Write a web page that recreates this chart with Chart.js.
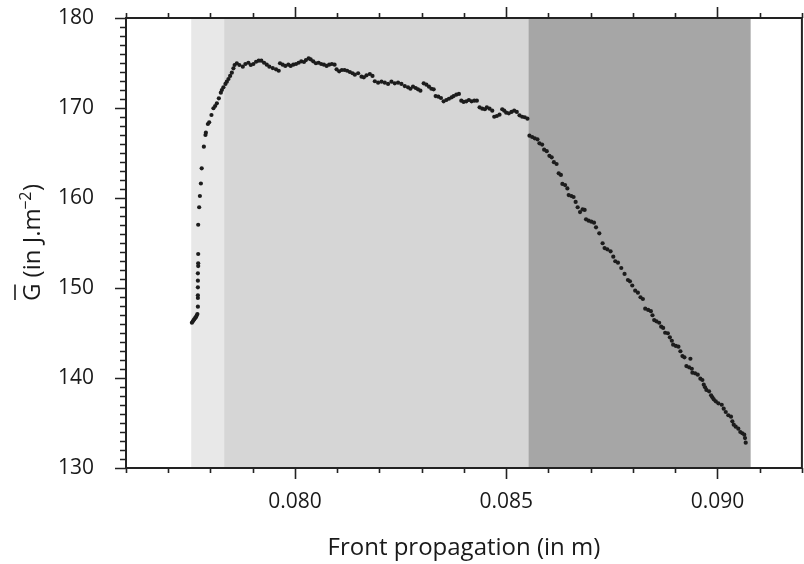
<!DOCTYPE html>
<html><head><meta charset="utf-8">
<script src="https://cdn.jsdelivr.net/npm/chart.js@4"></script>
<style>html,body{margin:0;padding:0;background:#fff;}canvas{display:block;}</style>
</head><body>
<canvas id="c" width="804" height="564"></canvas>
<script>
// Front propagation (m)
const frontPropagation = [
0.077560,0.077579,0.077598,0.077614,0.077638,0.077657,0.077673,0.077690,
0.077702,0.077702,0.077702,0.077702,0.077702,0.077702,0.077709,0.077709,0.077709,0.077709,
0.077732,0.077749,0.077773,0.077792,0.077843,0.077881,0.077891,0.077938,0.077969,0.078023,0.078070,0.078110,0.078151,0.078198,0.078245,0.078269,0.078306,0.078354,0.078387,0.078425,0.078465,0.078505,0.078543,
0.078571,0.078623,0.078684,0.078765,0.078826,0.078897,0.078954,0.079015,0.079079,0.079143,0.079204,0.079268,0.079332,0.079393,0.079473,0.079551,0.079615,0.079646,0.079709,0.079771,0.079842,0.079898,0.079960,0.080024,0.080087,0.080149,0.080213,0.080260,0.080324,0.080371,0.080432,0.080496,0.080560,0.080621,0.080685,0.080749,0.080810,0.080874,0.080938,0.080985,0.081046,0.081110,0.081174,0.081235,0.081299,0.081363,0.081417,0.081495,0.081575,0.081630,0.081694,0.081772,0.081835,0.081890,0.081968,
0.082048,0.082126,0.082204,0.082284,0.082362,0.082440,0.082520,0.082598,0.082676,0.082733,0.082794,0.082858,0.082912,0.082969,0.083047,0.083111,0.083172,0.083229,0.083283,0.083330,0.083394,0.083456,0.083519,0.083583,0.083645,0.083708,0.083756,0.083819,0.083881,0.083937,0.083992,0.084056,0.084117,0.084181,0.084245,0.084306,0.084370,0.084433,0.084495,0.084542,0.084606,0.084670,0.084717,0.084778,0.084842,0.084906,0.084953,0.085000,0.085062,0.085126,0.085189,0.085251,0.085315,0.085378,0.085440,0.085503,
0.085551,0.085615,0.085676,0.085740,0.085787,0.085851,0.085898,0.085960,0.086023,0.086077,0.086129,0.086193,0.086243,0.086295,0.086330,0.086394,0.086448,0.086479,0.086543,0.086595,0.086644,0.086692,0.086748,0.086810,0.086857,0.086890,0.086951,0.087015,0.087079,0.087126,0.087204,0.087282,0.087329,0.087393,0.087471,0.087535,0.087582,0.087646,0.087724,0.087802,0.087882,0.087929,0.087984,0.088054,0.088118,0.088180,0.088236,0.088291,0.088361,0.088425,0.088463,0.088503,0.088558,0.088621,0.088669,0.088716,0.088763,0.088827,0.088874,0.088921,0.088952,0.089016,0.089077,0.089124,0.089172,0.089219,0.089266,0.089330,0.089361,0.089394,0.089408,0.089472,0.089535,0.089597,0.089644,0.089677,0.089708,0.089739,0.089802,0.089850,0.089881,0.089913,0.089961,0.090022,0.090102,0.090149,0.090197,0.090258,0.090322,0.090353,0.090386,0.090433,0.090495,0.090542,0.090589,0.090636,0.090653,0.090670
];
// Mean energy release rate G (J.m-2)
const gValues = [
146.14,146.28,146.41,146.52,146.67,146.78,146.94,147.11,
147.92,148.89,149.19,150.08,150.81,151.63,152.44,152.74,153.78,157.03,
158.97,160.22,161.61,163.30,165.70,167.00,167.26,168.22,168.41,169.22,169.97,170.22,170.52,171.08,171.70,172.00,172.30,172.67,172.92,173.22,173.56,173.92,174.41,
174.78,174.97,174.78,174.59,174.89,175.03,174.78,174.89,175.14,175.26,175.26,175.03,174.81,174.59,174.44,174.30,174.14,174.97,174.81,174.67,174.81,174.67,174.81,174.89,175.03,175.19,175.11,175.33,175.52,175.41,175.19,174.97,175.03,174.89,174.81,174.67,174.81,174.89,174.81,174.30,174.08,174.22,174.22,174.14,174.00,173.86,173.70,173.86,173.48,173.41,173.63,173.78,173.56,172.97,172.81,
172.92,172.81,172.67,172.92,172.74,172.81,172.67,172.44,172.30,172.14,172.37,172.22,172.08,171.92,172.74,172.59,172.37,172.14,172.08,171.33,171.26,171.11,170.74,170.89,171.03,171.19,171.33,171.48,171.56,170.81,170.67,170.74,170.89,170.74,170.81,170.81,170.08,169.92,169.86,170.08,169.92,169.70,169.03,169.11,169.26,169.86,169.70,169.48,169.41,169.56,169.70,169.56,169.19,169.03,168.97,168.81,
166.92,166.78,166.63,166.52,166.08,165.94,165.37,165.20,164.69,164.52,163.98,163.78,162.74,162.56,161.56,161.44,161.06,160.33,160.22,160.11,159.56,158.97,158.44,158.74,158.67,157.63,157.48,157.37,157.26,156.74,156.08,154.97,154.44,154.30,154.08,153.48,152.97,152.81,152.22,151.56,150.89,150.74,150.28,149.70,149.48,148.97,148.78,147.70,147.56,147.42,146.97,146.44,146.30,146.14,145.70,145.56,145.03,144.97,144.52,144.14,143.70,143.56,143.48,142.97,142.44,142.30,141.33,141.19,142.14,141.03,140.59,140.52,140.37,139.92,139.78,139.26,138.97,138.67,138.52,138.08,137.86,137.63,137.41,137.19,137.03,136.59,136.22,135.86,135.70,135.19,134.81,134.59,134.37,134.00,133.86,133.70,133.33,132.81
];
// shaded phases (x range, m)
const regionStarts = [0.077544, 0.078323, 0.085527];
const regionEnds   = [0.078323, 0.085527, 0.090787];

const xMin = 0.076, xMax = 0.092;
const yMin = 130, yMax = 180;
const xTickValues = [0.080, 0.085, 0.090];
const xTickLabels = ['0.080', '0.085', '0.090'];
const yTickValues = [130, 140, 150, 160, 170, 180];
const yTickLabels = ['130', '140', '150', '160', '170', '180'];
const xTitle = 'Front propagation (in m)';
const yTitleMain = 'G', yTitleRest = ' (in J.m', yTitleSup = '\u22122', yTitleEnd = ')';

const FONT = '"Open Sans", "DejaVu Sans", sans-serif';
const INK = '#1a1a1a';
const regionColors = ['#e8e8e8', '#d6d6d6', '#a6a6a6'];

const shadePlugin = {
  id: 'shade',
  beforeDatasetsDraw(chart) {
    const {ctx, chartArea: a, scales: {x}} = chart;
    ctx.save();
    regionStarts.forEach((s, i) => {
      const p0 = x.getPixelForValue(s), p1 = x.getPixelForValue(regionEnds[i]);
      ctx.fillStyle = regionColors[i];
      ctx.fillRect(p0, a.top, p1 - p0, a.bottom - a.top);
    });
    ctx.restore();
  }
};

const framePlugin = {
  id: 'frame',
  afterDatasetsDraw(chart) {
    const {ctx, chartArea: a, scales: {x, y}} = chart;
    ctx.save();
    ctx.strokeStyle = '#222';
    ctx.lineWidth = 1.6;
    ctx.beginPath();
    for (let i = Math.round(xMin * 1000); i <= Math.round(xMax * 1000); i++) {
      const p = Math.round(x.getPixelForValue(i / 1000)) + 0.5;
      const len = (i % 5 === 0) ? 11 : 5;
      ctx.moveTo(p, a.bottom); ctx.lineTo(p, a.bottom + len);
      ctx.moveTo(p, a.top); ctx.lineTo(p, a.top - len);
    }
    for (let v = yMin; v <= yMax; v++) {
      const p = Math.round(y.getPixelForValue(v)) + 0.5;
      const len = (v % 10 === 0) ? 11 : 6;
      ctx.moveTo(a.left, p); ctx.lineTo(a.left - len, p);
    }
    ctx.stroke();
    ctx.lineWidth = 2;
    ctx.strokeRect(a.left, a.top, a.right - a.left, a.bottom - a.top);
    ctx.restore();
  }
};

const yTitlePlugin = {
  id: 'ytitle',
  afterDraw(chart) {
    const {ctx, chartArea: a} = chart;
    const cy = (a.top + a.bottom) / 2;
    ctx.save();
    ctx.translate(39.5, cy);
    ctx.rotate(-Math.PI / 2);
    ctx.fillStyle = INK;
    ctx.strokeStyle = INK;
    ctx.textBaseline = 'alphabetic';
    ctx.textAlign = 'left';
    const big = '24px ' + FONT, small = '16px ' + FONT;
    ctx.font = big;
    const wG = ctx.measureText(yTitleMain).width;
    const wR = ctx.measureText(yTitleRest).width;
    const wE = ctx.measureText(yTitleEnd).width;
    ctx.font = small;
    const wS = ctx.measureText(yTitleSup).width;
    let px = -(wG + wR + wS + wE - 2) / 2;
    ctx.font = big;
    ctx.fillText(yTitleMain, px, 0);
    ctx.lineWidth = 1.6;
    ctx.beginPath();
    ctx.moveTo(px + 1, -24.5); ctx.lineTo(px + wG - 1, -24.5);
    ctx.stroke();
    px += wG;
    ctx.fillText(yTitleRest, px, 0);
    px += wR;
    ctx.font = small;
    ctx.fillText(yTitleSup, px - 1.5, -9);
    px += wS - 1;
    ctx.font = big;
    ctx.fillText(yTitleEnd, px, 0);
    ctx.restore();
  }
};

function noOverflow(s) {
  s.paddingTop = 0; s.paddingBottom = 0; s.paddingLeft = 0; s.paddingRight = 0;
}

new Chart(document.getElementById('c'), {
  type: 'scatter',
  data: {
    datasets: [{
      data: frontPropagation.map((v, i) => ({x: v, y: gValues[i]})),
      pointRadius: 2.1,
      pointHoverRadius: 2.1,
      pointBorderWidth: 0,
      pointBackgroundColor: '#1c1c1c',
      showLine: false
    }]
  },
  options: {
    responsive: false,
    animation: false,
    devicePixelRatio: 1,
    events: [],
    layout: {padding: {left: 0, right: 1, top: 18, bottom: 0}},
    plugins: {legend: {display: false}, tooltip: {enabled: false}},
    scales: {
      x: {
        type: 'linear', min: xMin, max: xMax,
        grid: {display: false}, border: {display: false},
        afterBuildTicks: s => { s.ticks = xTickValues.map(v => ({value: v})); },
        afterFit: s => { s.height = 96; noOverflow(s); },
        ticks: {
          padding: 13, color: INK, maxRotation: 0, autoSkip: false,
          font: {family: FONT, size: 21},
          callback: (v, i) => xTickLabels[i]
        },
        title: {display: true, text: xTitle, color: INK, font: {family: FONT, size: 24}, padding: {top: 0, bottom: 1}}
      },
      y: {
        type: 'linear', min: yMin, max: yMax,
        grid: {display: false}, border: {display: false},
        afterBuildTicks: s => { s.ticks = yTickValues.map(v => ({value: v})); },
        afterFit: s => { s.width = 126; noOverflow(s); },
        ticks: {
          padding: 24, color: INK, autoSkip: false,
          font: {family: FONT, size: 21},
          callback: (v, i) => yTickLabels[i]
        },
        title: {display: false}
      }
    }
  },
  plugins: [shadePlugin, framePlugin, yTitlePlugin]
});
</script>
</body></html>
